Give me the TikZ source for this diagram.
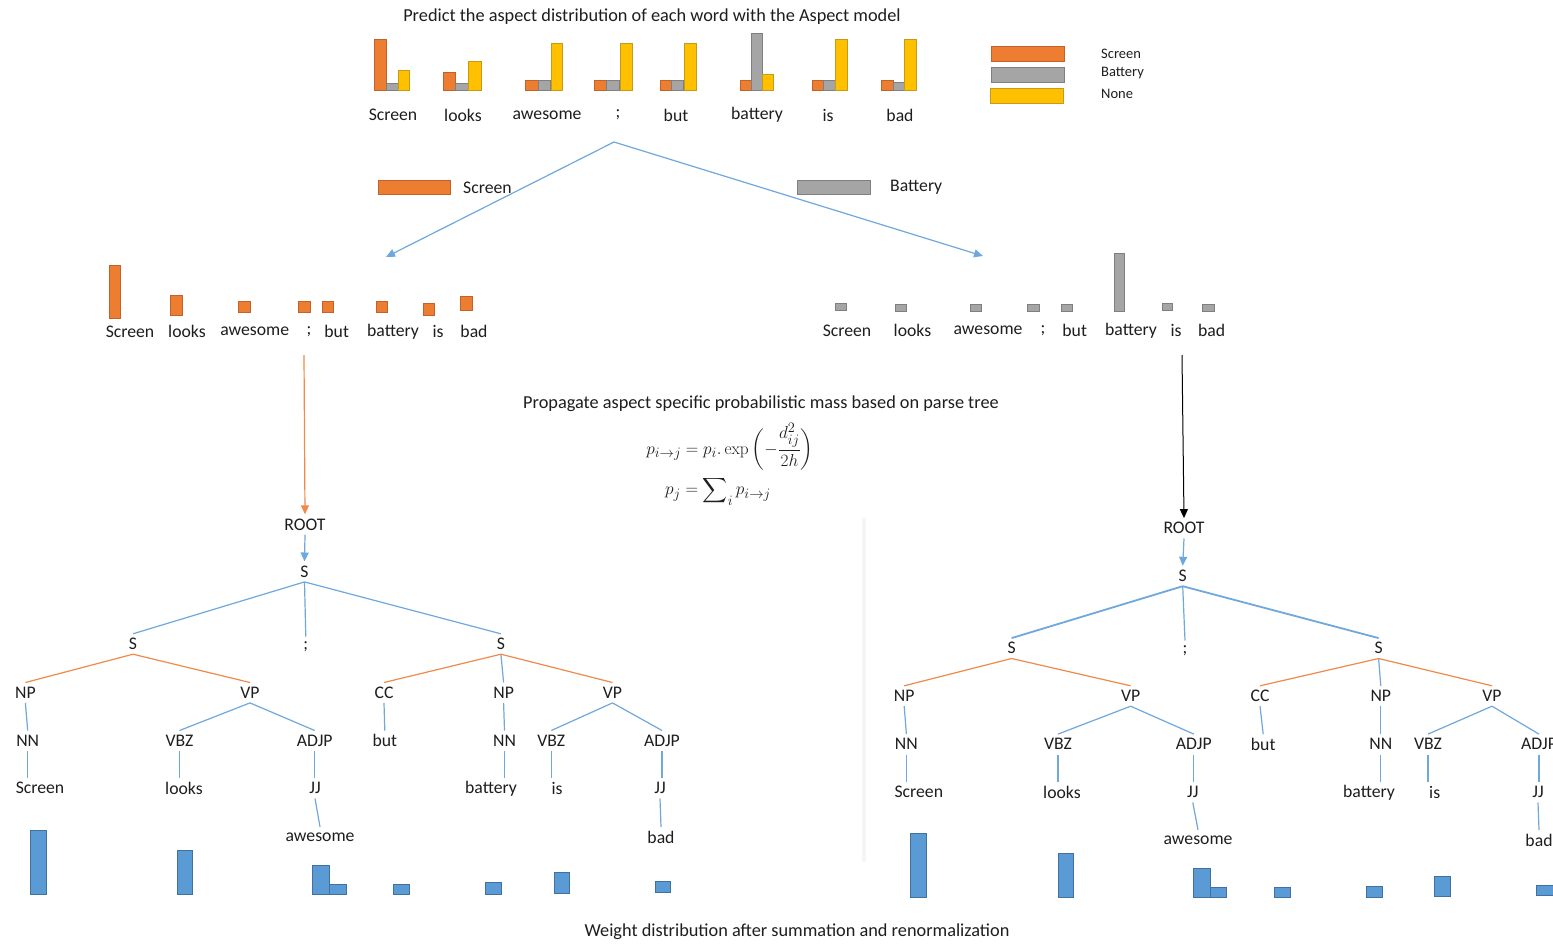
\documentclass[tikz,border=0pt]{standalone}
\usepackage{amsmath}
\usepackage{exscale}
\usepackage[no-math]{fontspec}
\setmainfont{Carlito}
\usetikzlibrary{arrows.meta}

\definecolor{scrO}{HTML}{ED7D31}
\definecolor{scrOd}{HTML}{C0622A}
\definecolor{batG}{HTML}{A5A5A5}
\definecolor{batGd}{HTML}{7F7F7F}
\definecolor{nonY}{HTML}{FFC000}
\definecolor{nonYd}{HTML}{C79A1A}
\definecolor{wBl}{HTML}{5B9BD5}
\definecolor{wBld}{HTML}{41719C}
\definecolor{lnBl}{HTML}{6FA8DC}
\definecolor{lnOr}{HTML}{F08A4B}
\definecolor{txt}{HTML}{1E1E1E}
\definecolor{sepG}{HTML}{F5F5F5}

\begin{document}
\begin{tikzpicture}[x=1pt,y=-1pt,
  font=\fontsize{17.7}{21}\selectfont, text=txt,
  wordlbl/.style={inner sep=1pt},
  headline/.style={inner sep=1pt, font=\fontsize{18.3}{22}\selectfont},
  legtxt/.style={inner sep=0pt, anchor=west, font=\fontsize{14.5}{17}\selectfont},
  eqn/.style={inner sep=0pt, font=\fontsize{19}{23}\selectfont},
  treenode/.style={minimum height=20pt, inner sep=1pt},
  bl/.style={draw=lnBl, line width=1.2pt},
  blthick/.style={draw=lnBl, line width=1.8pt},
  ol/.style={draw=lnOr, line width=1.2pt},
  tip/.style={-{Triangle[length=9pt,width=8pt]}},
  barO/.style={fill=scrO, draw=scrOd, line width=0.7pt},
  barG/.style={fill=batG, draw=batGd, line width=0.7pt},
  barY/.style={fill=nonY, draw=nonYd, line width=0.7pt},
  barW/.style={fill=wBl, draw=wBld, line width=0.8pt},
]
\clip (0,0) rectangle (1553,945);
\fill[white] (0,0) rectangle (1553,945);

% ---------- aspect model predictions ----------
\node[headline] (title1) at (652,17) {Predict the aspect distribution of each word with the Aspect model};

% per-word bars: screen / battery / none
\draw[barO] (374.8,90.7) rectangle (386.6,39.3);
\draw[barG] (386.6,90.7) rectangle (398.5,83.3);
\draw[barY] (398.5,90.7) rectangle (409.2,70);
\draw[barO] (443.6,90.7) rectangle (455.8,72);
\draw[barG] (455.8,90.7) rectangle (468,83.3);
\draw[barY] (468.4,90.7) rectangle (481.3,61);
\draw[barO] (525.7,90.7) rectangle (538.3,80);
\draw[barG] (538.3,90.7) rectangle (550.2,80);
\draw[barY] (551.6,90.7) rectangle (562.7,43.3);
\draw[barO] (594.6,90.7) rectangle (606.8,80);
\draw[barG] (606.8,90.7) rectangle (619,80);
\draw[barY] (620.8,90.7) rectangle (631.9,43.3);
\draw[barO] (660,90.7) rectangle (671.5,80);
\draw[barG] (671.5,90.7) rectangle (683.3,80);
\draw[barY] (684.8,90.7) rectangle (696.7,43.3);
\draw[barO] (740,90.7) rectangle (751.5,80);
\draw[barG] (751.5,90.7) rectangle (762.6,33.3);
\draw[barY] (762.6,90.7) rectangle (773.7,74);
\draw[barO] (812,90.7) rectangle (823.5,80);
\draw[barG] (823.5,90.7) rectangle (835.4,80);
\draw[barY] (835.4,90.7) rectangle (846.9,39.3);
\draw[barO] (881.6,90.7) rectangle (893,80);
\draw[barG] (893,90.7) rectangle (904.6,82);
\draw[barY] (904.6,90.7) rectangle (916.8,39.3);

\node[wordlbl] (t1) at (393,115) {Screen};
\node[wordlbl] (t2) at (463,115) {looks};
\node[wordlbl] (t3) at (547,115) {awesome};
\node[wordlbl] (t4) at (618,115) {;};
\node[wordlbl] (t5) at (676,115) {but};
\node[wordlbl] (t6) at (757,115) {battery};
\node[wordlbl] (t7) at (828,115) {is};
\node[wordlbl] (t8) at (900,115) {bad};

% legend
\draw[barO] (991.7,46) rectangle (1064,61);
\draw[barG] (991.7,67) rectangle (1064,82);
\draw[barY] (990.7,88) rectangle (1063,103);
\node[legtxt] (lg1) at (1101,54) {Screen};
\node[legtxt] (lg2) at (1101,73.5) {Battery};
\node[legtxt] (lg3) at (1101,93.5) {None};

% ---------- split into aspects ----------
\coordinate (split) at (614,142);
\coordinate (tipL) at (386,257);
\coordinate (tipR) at (983,256);
\draw[bl, tip] (split) -- (tipL);
\draw[bl, tip] (split) -- (tipR);

\draw[barO] (378.4,180) rectangle (450.6,194.3);
\node[wordlbl, anchor=west] (keyS) at (462,187.5) {Screen};
\draw[barG] (797.6,180) rectangle (870.2,194.3);
\node[wordlbl, anchor=west] (keyB) at (889,187.5) {Battery};

% screen aspect mass per word
\draw[barO] (109,318.3) rectangle (120.7,265);
\draw[barO] (170.7,315) rectangle (182.3,295);
\draw[barO] (238.3,312.7) rectangle (250.3,301);
\draw[barO] (298.3,312.7) rectangle (310,301);
\draw[barO] (322,312.7) rectangle (333.7,301);
\draw[barO] (376.7,312.7) rectangle (387.7,301);
\draw[barO] (423.3,315) rectangle (434,303.3);
\draw[barO] (460.7,310.7) rectangle (472.3,296.7);

\node[wordlbl] (a1) at (130,331.7) {Screen};
\node[wordlbl] (a2) at (187,331.7) {looks};
\node[wordlbl] (a3) at (254.7,331.7) {awesome};
\node[wordlbl] (a4) at (309,331.7) {;};
\node[wordlbl] (a5) at (336.7,331.7) {but};
\node[wordlbl] (a6) at (393,331.7) {battery};
\node[wordlbl] (a7) at (438,331.7) {is};
\node[wordlbl] (a8) at (474,331.7) {bad};

% battery aspect mass per word
\draw[barG] (835,310.7) rectangle (846.7,303.3);
\draw[barG] (895,311.7) rectangle (906.7,304.3);
\draw[barG] (970,311.7) rectangle (981.3,304.3);
\draw[barG] (1027.7,311.7) rectangle (1039.3,304.3);
\draw[barG] (1061.7,311.7) rectangle (1072.3,304.3);
\draw[barG] (1114,311.7) rectangle (1124,253.3);
\draw[barG] (1162.3,310.7) rectangle (1172.7,303.3);
\draw[barG] (1202.7,311.7) rectangle (1214.3,304.3);

\node[wordlbl] (b1) at (847,330.7) {Screen};
\node[wordlbl] (b2) at (912.5,330.7) {looks};
\node[wordlbl] (b3) at (988,330.7) {awesome};
\node[wordlbl] (b4) at (1043,330.7) {;};
\node[wordlbl] (b5) at (1074.7,330.7) {but};
\node[wordlbl] (b6) at (1131,330.7) {battery};
\node[wordlbl] (b7) at (1176,330.7) {is};
\node[wordlbl] (b8) at (1211.7,330.7) {bad};

% ---------- propagation rule ----------
\node[headline] (title2) at (761,404) {Propagate aspect specific probabilistic mass based on parse tree};
\node[eqn] (eq1) at (730,447)
  {$p_{i\to j} = p_i.\exp\,\biggl(-\dfrac{d_{ij}^2}{2h}\biggr)$};
\node[eqn] (eq2) at (718,491)
  {$p_j = \displaystyle\sum\nolimits_i p_{i\to j}$};

% faint divider between the two trees
\fill[sepG] (861.5,518) rectangle (866,862);

% ---------- parse tree, screen aspect ----------
\coordinate (srcA) at (304,355);
\node[treenode] (rootA) at (305,524.5) {ROOT};
\node[treenode] (sA)    at (304.5,571.7) {S};
\node[treenode] (sLA)   at (133,644) {S};
\node[treenode] (semA)  at (305.8,646.7) {;};
\node[treenode] (sRA)   at (500.9,644) {S};
\node[treenode] (npA)   at (25.4,692.7) {NP};
\node[treenode] (vpA)   at (250,692.7) {VP};
\node[treenode] (ccA)   at (384,692.7) {CC};
\node[treenode] (npB)   at (503.6,692.7) {NP};
\node[treenode] (vpB)   at (612.5,692.7) {VP};
\node[treenode] (nnA)   at (27.7,740.7) {NN};
\node[treenode] (vbzA)  at (179.5,740.7) {VBZ};
\node[treenode] (adjpA) at (314.7,740.7) {ADJP};
\node[treenode] (butA)  at (384.8,740.7) {but};
\node[treenode] (nnB)   at (504.5,740.7) {NN};
\node[treenode] (vbzB)  at (551.3,740.7) {VBZ};
\node[treenode] (adjpB) at (662,740.7) {ADJP};
\node[treenode] (scrA)  at (40,788.3) {Screen};
\node[treenode] (lookA) at (184,788.3) {looks};
\node[treenode] (jjA)   at (315,788.3) {JJ};
\node[treenode] (batA)  at (491,788.3) {battery};
\node[treenode] (isA)   at (557,788.3) {is};
\node[treenode] (jjB)   at (660,788.3) {JJ};
\node[treenode] (awA)   at (320,837) {awesome};
\node[treenode] (badA)  at (661,837) {bad};

\draw[draw=lnOr, line width=1.2pt, tip] (srcA) -- (rootA.north);
\draw[bl, tip] (rootA.south) -- (sA.north);
\draw[bl] (sA.south) -- (sLA.north);
\draw[bl] (sA.south) -- (semA.north);
\draw[bl] (sA.south) -- (sRA.north);
\draw[ol] (sLA.south) -- (npA.north);
\draw[ol] (sLA.south) -- (vpA.north);
\draw[ol] (sRA.south) -- (ccA.north);
\draw[bl] (sRA.south) -- (npB.north);
\draw[ol] (sRA.south) -- (vpB.north);
\draw[bl] (npA.south) -- (nnA.north);
\draw[bl] (vpA.south) -- (vbzA.north);
\draw[bl] (vpA.south) -- (adjpA.north);
\draw[bl] (ccA.south) -- (butA.north);
\draw[bl] (npB.south) -- (nnB.north);
\draw[bl] (vpB.south) -- (vbzB.north);
\draw[bl] (vpB.south) -- (adjpB.north);
\draw[bl] (nnA.south) -- (nnA.south |- scrA.north);
\draw[bl] (vbzA.south) -- (vbzA.south |- lookA.north);
\draw[bl] (adjpA.south) -- (adjpA.south |- jjA.north);
\draw[bl] (nnB.south) -- (nnB.south |- batA.north);
\draw[bl] (vbzB.south) -- (vbzB.south |- isA.north);
\draw[bl] (adjpB.south) -- (adjpB.south |- jjB.north);
\draw[bl] (jjA.south) -- (awA.north);
\draw[bl] (jjB.south) -- (badA.north);

% word weights, screen aspect
\draw[barW] (29.9,894.3) rectangle (46,830);
\draw[barW] (177.2,894.3) rectangle (192.4,850);
\draw[barW] (312.5,894.3) rectangle (329,865);
\draw[barW] (329,894.3) rectangle (346,884);
\draw[barW] (393.8,894.3) rectangle (409.4,884);
\draw[barW] (485.3,894.3) rectangle (501.3,882.7);
\draw[barW] (554.5,893.3) rectangle (569.2,872.7);
\draw[barW] (655.4,892.3) rectangle (670.5,881.7);

% ---------- parse tree, battery aspect ----------
\coordinate (srcB) at (1182,355);
\node[treenode] (rootB) at (1184,528.3) {ROOT};
\node[treenode] (sB)    at (1182.7,576) {S};
\node[treenode] (sLB)   at (1011.6,648.3) {S};
\node[treenode] (semB)  at (1185,650.7) {;};
\node[treenode] (sRB)   at (1378.6,648.3) {S};
\node[treenode] (npC)   at (904.2,696) {NP};
\node[treenode] (vpC)   at (1130.6,696) {VP};
\node[treenode] (ccB)   at (1260,696) {CC};
\node[treenode] (npD)   at (1380.8,696) {NP};
\node[treenode] (vpD)   at (1492,696) {VP};
\node[treenode] (nnC)   at (906.4,744.3) {NN};
\node[treenode] (vbzC)  at (1058,744.3) {VBZ};
\node[treenode] (adjpC) at (1193.8,744.3) {ADJP};
\node[treenode] (butB)  at (1263.2,744.3) {but};
\node[treenode] (nnD)   at (1380.8,744.3) {NN};
\node[treenode] (vbzD)  at (1428,744.3) {VBZ};
\node[treenode] (adjpD) at (1539,744.3) {ADJP};
\node[treenode] (scrB)  at (918.8,792.3) {Screen};
\node[treenode] (lookB) at (1062,792.3) {looks};
\node[treenode] (jjC)   at (1192.8,792.3) {JJ};
\node[treenode] (batB)  at (1369,792.3) {battery};
\node[treenode] (isB)   at (1434.7,792.3) {is};
\node[treenode] (jjD)   at (1538,792.3) {JJ};
\node[treenode] (awB)   at (1198,840) {awesome};
\node[treenode] (badB)  at (1539,840) {bad};

\draw[draw=black, line width=1pt, tip] (srcB) -- (rootB.north);
\draw[bl, tip] (rootB.south) -- (sB.north);
\draw[blthick] (sB.south) -- (sLB.north);
\draw[bl] (sB.south) -- (semB.north);
\draw[blthick] (sB.south) -- (sRB.north);
\draw[ol] (sLB.south) -- (npC.north);
\draw[ol] (sLB.south) -- (vpC.north);
\draw[ol] (sRB.south) -- (ccB.north);
\draw[bl] (sRB.south) -- (npD.north);
\draw[ol] (sRB.south) -- (vpD.north);
\draw[bl] (npC.south) -- (nnC.north);
\draw[bl] (vpC.south) -- (vbzC.north);
\draw[bl] (vpC.south) -- (adjpC.north);
\draw[bl] (ccB.south) -- (butB.north);
\draw[bl] (npD.south) -- (nnD.north);
\draw[bl] (vpD.south) -- (vbzD.north);
\draw[bl] (vpD.south) -- (adjpD.north);
\draw[bl] (nnC.south) -- (nnC.south |- scrB.north);
\draw[bl] (vbzC.south) -- (vbzC.south |- lookB.north);
\draw[bl] (adjpC.south) -- (adjpC.south |- jjC.north);
\draw[bl] (nnD.south) -- (nnD.south |- batB.north);
\draw[bl] (vbzD.south) -- (vbzD.south |- isB.north);
\draw[bl] (adjpD.south) -- (adjpD.south |- jjD.north);
\draw[bl] (jjC.south) -- (awB.north);
\draw[bl] (jjD.south) -- (badB.north);

% word weights, battery aspect
\draw[barW] (910.8,897.7) rectangle (926.3,833.3);
\draw[barW] (1058,897.7) rectangle (1073.5,853.3);
\draw[barW] (1193.8,897.7) rectangle (1210.1,868.3);
\draw[barW] (1210.1,897.7) rectangle (1226.5,887.3);
\draw[barW] (1274.7,897.7) rectangle (1290.2,887.3);
\draw[barW] (1366.2,897.7) rectangle (1382.5,886);
\draw[barW] (1434.7,896.7) rectangle (1450.2,876);
\draw[barW] (1536.4,895.7) rectangle (1555,885);

\node[headline] (caption) at (797,932) {Weight distribution after summation and renormalization};
\end{tikzpicture}
\end{document}
